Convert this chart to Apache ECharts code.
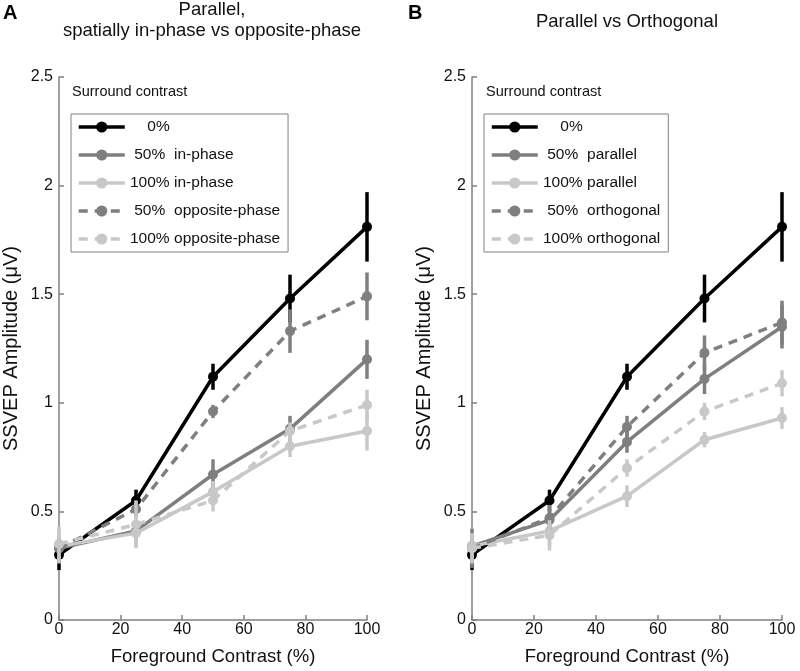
<!DOCTYPE html>
<html>
<head>
<meta charset="utf-8">
<script src="https://cdn.jsdelivr.net/npm/echarts@6/dist/echarts.min.js"></script>
<style>
html,body{margin:0;padding:0;background:#fff;}
#chart{width:800px;height:671px;}
</style>
</head>
<body>
<div id="chart"></div>
<script>
// ---- data ----
const xVals = [0, 25, 50, 75, 100];

const namesA = ['0%', '50% in-phase', '100% in-phase', '50% opposite-phase', '100% opposite-phase'];
const a0      = [0.30, 0.55, 1.12, 1.48, 1.81];
const a0Err   = [0.07, 0.05, 0.06, 0.11, 0.16];
const a50in   = [0.33, 0.41, 0.67, 0.88, 1.20];
const a50inErr= [0.05, 0.05, 0.07, 0.06, 0.09];
const a100in  = [0.34, 0.40, 0.59, 0.80, 0.87];
const a100inErr=[0.08, 0.06, 0.05, 0.05, 0.09];
const a50op   = [0.33, 0.51, 0.96, 1.33, 1.49];
const a50opErr= [0.05, 0.04, 0.03, 0.10, 0.11];
const a100op  = [0.35, 0.44, 0.55, 0.87, 0.99];
const a100opErr=[0.08, 0.11, 0.05, 0.04, 0.07];

const namesB = ['0%', '50% parallel', '100% parallel', '50% orthogonal', '100% orthogonal'];
const b0       = [0.30, 0.55, 1.12, 1.48, 1.81];
const b0Err    = [0.07, 0.05, 0.06, 0.11, 0.16];
const b50par   = [0.34, 0.46, 0.82, 1.11, 1.35];
const b50parErr= [0.05, 0.05, 0.05, 0.07, 0.10];
const b100par  = [0.34, 0.41, 0.57, 0.83, 0.93];
const b100parErr=[0.08, 0.07, 0.05, 0.035, 0.05];
const b50orth  = [0.33, 0.47, 0.89, 1.23, 1.37];
const b50orthErr=[0.09, 0.06, 0.05, 0.08, 0.10];
const b100orth = [0.33, 0.39, 0.70, 0.96, 1.09];
const b100orthErr=[0.07, 0.07, 0.04, 0.04, 0.06];

const titleA1 = 'Parallel,';
const titleA2 = 'spatially in-phase vs opposite-phase';
const titleB = 'Parallel vs Orthogonal';
const xName = 'Foreground Contrast (%)';
const yName = 'SSVEP Amplitude (\u03bcV)';
const legendTitle = 'Surround contrast';

// ---- styles ----
const FONT = '"Liberation Sans", Arial, Helvetica, sans-serif';
const colors = ['#000000', '#7f7f7f', '#c8c8c8', '#7f7f7f', '#c8c8c8'];
const dashed = [false, false, false, true, true];
const LW = 3.5;

function buildSeries(gridIdx, names, vals, errs) {
  const out = [];
  names.forEach((nm, k) => {
    out.push({
      type: 'line', name: nm, xAxisIndex: gridIdx, yAxisIndex: gridIdx,
      data: xVals.map((x, i) => [x, vals[k][i]]),
      symbol: 'circle', symbolSize: 10,
      lineStyle: { color: colors[k], width: LW, type: dashed[k] ? [9, 7] : 'solid' },
      itemStyle: { color: colors[k] },
      z: 3 + k
    });
    out.push({
      type: 'custom', name: nm + ' err', xAxisIndex: gridIdx, yAxisIndex: gridIdx,
      data: xVals.map((x, i) => [x, vals[k][i] - errs[k][i], vals[k][i] + errs[k][i]]),
      encode: { x: 0, y: [1, 2] },
      renderItem: function (params, api) {
        const p1 = api.coord([api.value(0), api.value(1)]);
        const p2 = api.coord([api.value(0), api.value(2)]);
        return { type: 'line', shape: { x1: p1[0], y1: p1[1], x2: p2[0], y2: p2[1] },
                 style: { stroke: colors[k], lineWidth: LW } };
      },
      z: 3 + k
    });
  });
  return out;
}

const series = [].concat(
  buildSeries(0, namesA, [a0, a50in, a100in, a50op, a100op], [a0Err, a50inErr, a100inErr, a50opErr, a100opErr]),
  buildSeries(1, namesB, [b0, b50par, b100par, b50orth, b100orth], [b0Err, b50parErr, b100parErr, b50orthErr, b100orthErr])
);

const axisCol = '#808080';
function xAxis(idx) {
  return {
    type: 'value', gridIndex: idx, min: 0, max: 100, interval: 20,
    name: xName, nameLocation: 'middle', nameGap: 27,
    nameTextStyle: { color: '#111', fontSize: 18.5, fontFamily: FONT },
    axisLine: { show: true, lineStyle: { color: axisCol, width: 1.5 } },
    axisTick: { show: true, inside: true, length: 5, lineStyle: { color: axisCol, width: 1.5 } },
    axisLabel: { color: '#111', fontSize: 16, fontFamily: FONT, margin: 2 },
    splitLine: { show: false }
  };
}
function yAxis(idx) {
  return {
    type: 'value', gridIndex: idx, min: 0, max: 2.5, interval: 0.5,
    name: yName, nameLocation: 'middle', nameGap: 38,
    nameTextStyle: { color: '#111', fontSize: 20, fontFamily: FONT },
    axisLine: { show: true, lineStyle: { color: axisCol, width: 1.5 } },
    axisTick: { show: true, inside: true, length: 5, lineStyle: { color: axisCol, width: 1.5 } },
    axisLabel: { color: '#111', fontSize: 16, fontFamily: FONT, margin: 6 },
    splitLine: { show: false }
  };
}

function legendFmt(name) {
  const i = name.indexOf('%');
  const p = name.slice(0, i + 1);
  const r = name.slice(i + 1);
  return '{p|' + p + '}' + (r ? '{r|' + r + '}' : '');
}
function legend(left, names) {
  return {
    orient: 'vertical', left: left, top: 114,
    data: names,
    itemWidth: 46, itemHeight: 14, itemGap: 12,
    padding: [5, 8, 5, 6],
    borderColor: '#808080', borderWidth: 1, backgroundColor: '#fff',
    selectedMode: false,
    lineStyle: { width: LW },
    formatter: legendFmt,
    textStyle: {
      fontFamily: FONT, fontSize: 15.5, color: '#111', lineHeight: 14,
      rich: {
        p: { width: 40, align: 'right', fontSize: 15.5, fontFamily: FONT, color: '#111', lineHeight: 14 },
        r: { fontSize: 15.5, fontFamily: FONT, color: '#111', lineHeight: 14 }
      }
    }
  };
}

const option = {
  animation: false,
  backgroundColor: '#ffffff',
  grid: [
    { left: 58, top: 77, width: 309, height: 546 },
    { left: 472, top: 77, width: 310, height: 546 }
  ],
  xAxis: [xAxis(0), xAxis(1)],
  yAxis: [yAxis(0), yAxis(1)],
  legend: [legend(71, namesA), legend(484, namesB)],
  graphic: [
    { type: 'text', left: 3, top: 3, style: { text: 'A', font: 'bold 20px ' + FONT, fill: '#000' } },
    { type: 'text', left: 408, top: 3, style: { text: 'B', font: 'bold 20px ' + FONT, fill: '#000' } },
    { type: 'text', x: 212, y: 10, style: { text: titleA1, font: '18.5px ' + FONT, fill: '#111', textAlign: 'center', textVerticalAlign: 'middle' } },
    { type: 'text', x: 212, y: 31, style: { text: titleA2, font: '18.5px ' + FONT, fill: '#111', textAlign: 'center', textVerticalAlign: 'middle' } },
    { type: 'text', x: 627, y: 22, style: { text: titleB, font: '18.5px ' + FONT, fill: '#111', textAlign: 'center', textVerticalAlign: 'middle' } },
    { type: 'text', x: 72, y: 92, style: { text: legendTitle, font: '14.5px ' + FONT, fill: '#111', textAlign: 'left', textVerticalAlign: 'middle' } },
    { type: 'text', x: 486, y: 92, style: { text: legendTitle, font: '14.5px ' + FONT, fill: '#111', textAlign: 'left', textVerticalAlign: 'middle' } }
  ],
  series: series
};

const chart = echarts.init(document.getElementById('chart'), null, { renderer: 'canvas' });
chart.setOption(option);
</script>
</body>
</html>
